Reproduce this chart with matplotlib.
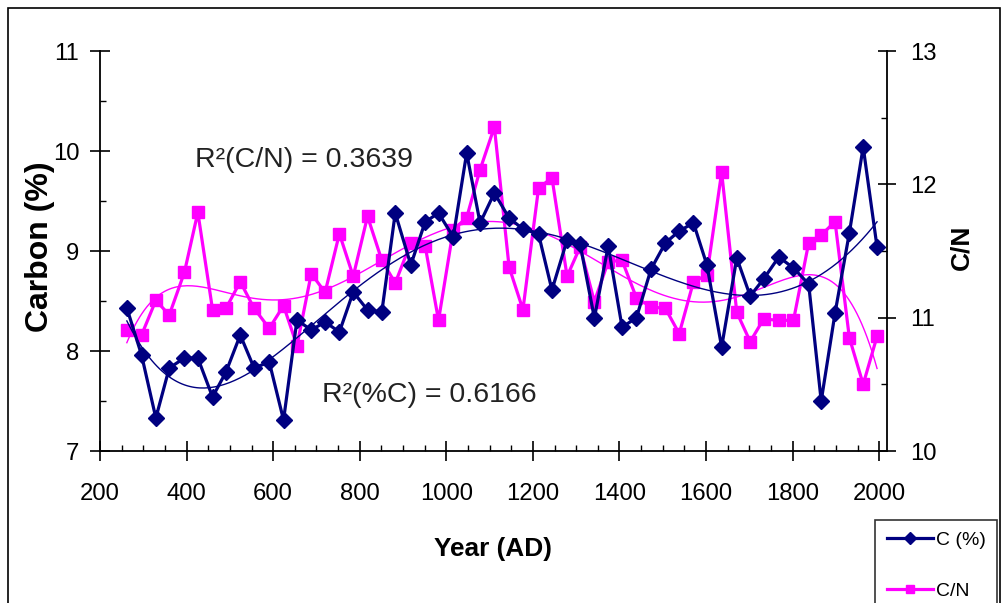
import matplotlib
matplotlib.use('Agg')
import matplotlib.pyplot as plt
import numpy as np
from matplotlib import font_manager
from matplotlib.ticker import MultipleLocator
from matplotlib.patches import Rectangle

# sample ages (AD) and the two measured series
years = [262, 296, 329, 360, 395, 426, 460, 491, 524, 556, 591, 624, 655, 688,
         720, 753, 785, 818, 851, 882, 918, 951, 982, 1016, 1047, 1078, 1111,
         1145, 1177, 1213, 1244, 1279, 1309, 1342, 1374, 1406, 1439, 1473,
         1506, 1538, 1571, 1602, 1636, 1671, 1702, 1733, 1768, 1802, 1837,
         1866, 1898, 1931, 1963, 1995]
carbon = [8.43, 7.96, 7.33, 7.83, 7.93, 7.93, 7.54, 7.79, 8.16, 7.83, 7.89, 7.31,
          8.31, 8.21, 8.29, 8.19, 8.59, 8.41, 8.39, 9.38, 8.86, 9.29, 9.38, 9.14,
          9.98, 9.28, 9.58, 9.33, 9.22, 9.17, 8.61, 9.11, 9.07, 8.33, 9.05, 8.24,
          8.33, 8.82, 9.08, 9.20, 9.28, 8.86, 8.04, 8.93, 8.55, 8.72, 8.94, 8.83,
          8.67, 7.50, 8.38, 9.18, 10.04, 9.04]
cn = [10.91, 10.87, 11.13, 11.02, 11.34, 11.79, 11.06, 11.07, 11.27, 11.07,
      10.92, 11.09, 10.79, 11.33, 11.19, 11.63, 11.31, 11.76, 11.43, 11.26,
      11.56, 11.54, 10.98, 11.66, 11.75, 12.11, 12.43, 11.38, 11.06, 11.97,
      12.05, 11.31, 11.53, 11.12, 11.42, 11.43, 11.15, 11.08, 11.07, 10.88,
      11.27, 11.32, 12.09, 11.04, 10.82, 10.99, 10.98, 10.98, 11.56, 11.62,
      11.72, 10.85, 10.50, 10.86]
r2_cn = 'R²(C/N) = 0.3639'
r2_c = 'R²(%C) = 0.6166'

names = {f.name for f in font_manager.fontManager.ttflist}
narrow = 'Liberation Sans Narrow' in names
fam = 'Liberation Sans Narrow' if narrow else 'Liberation Sans'
k = 1.0 if narrow else 0.82
plt.rcParams['font.family'] = [fam, 'DejaVu Sans']

navy = '#000080'
mag = '#ff00ff'

x = np.array(years, dtype=float)
fit_c = np.polynomial.Polynomial.fit(x, carbon, 6)
fit_n = np.polynomial.Polynomial.fit(x, cn, 6)
xs = np.linspace(x[0], x[-1], 300)

fig = plt.figure(figsize=(10.03, 6.03), dpi=100)
ax = fig.add_axes([100 / 1003, 1 - 451 / 603, 787 / 1003, 400 / 603])
ax2 = ax.twinx()
ax.set_zorder(ax2.get_zorder() + 1)
ax.patch.set_visible(False)

ax2.plot(xs, fit_n(xs), color=mag, lw=1)
ln2, = ax2.plot(years, cn, color=mag, lw=2.3, marker='s', ms=8, mec=mag)
ax.plot(xs, fit_c(xs), color=navy, lw=1)
ln1, = ax.plot(years, carbon, color=navy, lw=2.3, marker='D', ms=8.5, mec=navy)

ax.set_xlim(200, 2018)
ax.set_ylim(7, 11)
ax2.set_ylim(10, 13)
ax.set_xticks(range(200, 2001, 200))
ax.set_yticks([7, 8, 9, 10, 11])
ax2.set_yticks([10, 11, 12, 13])
ax.xaxis.set_minor_locator(MultipleLocator(50))
ax.yaxis.set_minor_locator(MultipleLocator(0.5))
ax2.yaxis.set_minor_locator(MultipleLocator(0.5))

for a in (ax, ax2):
    a.spines['top'].set_visible(False)
    for s in a.spines.values():
        s.set_linewidth(1.3)
ax.spines['right'].set_visible(False)
ax2.spines['left'].set_visible(False)
ax2.spines['bottom'].set_visible(False)

ax.tick_params(which='major', direction='inout', length=14, width=1.2,
               labelsize=21 * k, pad=8)
ax.tick_params(axis='x', which='major', pad=16)
ax.tick_params(which='minor', direction='in', length=4.5, width=1)
ax2.tick_params(which='major', direction='inout', length=13, width=1.2,
                labelsize=21 * k, pad=10)
ax2.tick_params(which='minor', direction='in', length=4.5, width=1)
ax2.tick_params(axis='x', which='both', bottom=False, labelbottom=False)

ax.set_xlabel('Year (AD)', fontsize=23 * k, fontweight='bold')
ax.xaxis.set_label_coords(0.4987, -0.215)
ax.set_ylabel('Carbon (%)', fontsize=23, fontweight='bold', family='Liberation Sans')
ax.yaxis.set_label_coords(-0.057, 0.51)
ax2.set_ylabel('C/N', fontsize=19, fontweight='bold', family='Liberation Sans')
ax2.yaxis.set_label_coords(1.079, 0.51)

ax.text(0.1207, 0.7275, r2_cn, transform=ax.transAxes, fontsize=25 * k,
        va='center', ha='left', color='#222222')
ax.text(0.282, 0.14, r2_c, transform=ax.transAxes, fontsize=25 * k,
        va='center', ha='left', color='#222222')

# outer chart frame
fig.add_artist(Rectangle((8 / 1003, -0.05), 992 / 1003, 1.05 - 8 / 603,
                         transform=fig.transFigure, fill=False, ec='black', lw=1.2))

leg = fig.legend([ln1, ln2], ['C (%)', 'C/N'], loc='upper left',
                 bbox_to_anchor=(875 / 1003, 1 - 520 / 603),
                 bbox_transform=fig.transFigure, fontsize=17 * k,
                 frameon=True, fancybox=False, edgecolor='black',
                 handlelength=2.4, handletextpad=0.15, labelspacing=1.7,
                 borderpad=0.6, borderaxespad=0, markerscale=0.75)
leg.get_frame().set_linewidth(1.2)

fig.savefig('out.png', dpi=100)
